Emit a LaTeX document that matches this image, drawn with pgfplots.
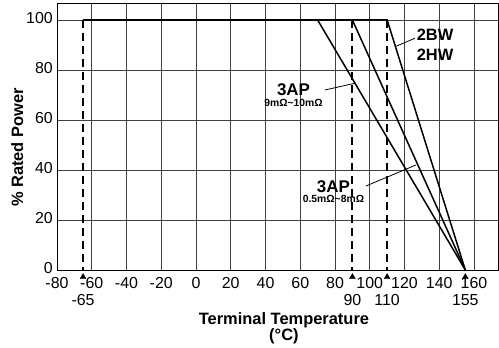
\documentclass[border=0pt]{standalone}
\usepackage{pgfplots}
\pgfplotsset{compat=1.18}
\usepackage{fontspec}
\setmainfont{Liberation Sans}
\begin{document}
\begin{tikzpicture}
\begin{axis}[
 scale only axis, width=441.5bp, height=267bp,
 xmin=-80, xmax=174.1, ymin=0, ymax=106.8,
 xtick={-80,-60,...,160}, ytick={0,20,...,100},
 grid=major, major grid style={black!75, line width=0.8bp},
 major tick length=0pt,
 axis line style={black, line width=0.9bp},
 clip=false,
 tick label style={font=\fontsize{16}{16}\selectfont, /pgf/number format/assume math mode=true},
 xticklabel style={inner sep=0pt, yshift=-7bp},
 yticklabel style={inner sep=0pt, xshift=-4bp, yshift=1.5bp},
 extra x ticks={-65,90,110,155},
 extra x tick labels={-65,90,110,155},
 extra x tick style={grid=none, xticklabel style={yshift=-17bp}},
 xlabel={Terminal Temperature\\(°C)},
 xlabel style={font=\bfseries\fontsize{16.5}{14.5}\selectfont, align=center, at={(axis description cs:0.514,-0.157)}, anchor=north, inner sep=0pt},
 ylabel={\% Rated Power},
 ylabel style={font=\bfseries\fontsize{16.5}{16.5}\selectfont, at={(axis description cs:-0.0898,0.459)}, anchor=center, inner sep=0pt},
]
\addplot[black, line width=1.5bp] coordinates {(-65,100)(70,100)(155,0)};
\addplot[black, line width=1.5bp] coordinates {(-65,100)(90,100)(155,0)};
\addplot[black, line width=1.5bp] coordinates {(-65,100)(110,100)(155,0)};
\addplot[black, line width=1.8bp, dash pattern=on 8bp off 5bp] coordinates {(-65,100)(-65,0)};
\addplot[black, line width=1.8bp, dash pattern=on 8bp off 5bp] coordinates {(90,100)(90,0)};
\addplot[black, line width=1.8bp, dash pattern=on 8bp off 5bp] coordinates {(110,100)(110,0)};
\addplot[only marks, mark=triangle*, mark size=3.4bp, black] coordinates {(-65,-2.8)(90,-2.8)(110,-2.8)(155,-2.8)};
\addplot[black, line width=0.8bp] coordinates {(114.5,89.3)(126,92.7)};
\addplot[black, line width=0.8bp] coordinates {(74.2,72)(91.5,74.7)};
\addplot[black, line width=0.8bp] coordinates {(97.8,33.6)(126.6,42)};
\node[font=\bfseries\fontsize{16.5}{20}\selectfont, align=center, inner sep=0pt] at (axis cs:137.6,90) {2BW\\2HW};
\node[font=\bfseries\fontsize{17}{17}\selectfont, inner sep=0pt] at (axis cs:56.1,72.2) {3AP};
\node[font=\bfseries\fontsize{10.4}{10.4}\selectfont, inner sep=0pt] at (axis cs:56.1,67) {9mΩ\textasciitilde10mΩ};
\node[font=\bfseries\fontsize{17}{17}\selectfont, inner sep=0pt] at (axis cs:79.1,33.4) {3AP};
\node[font=\bfseries\fontsize{10.4}{10.4}\selectfont, inner sep=0pt] at (axis cs:79.1,28.4) {0.5mΩ\textasciitilde8mΩ};
\coordinate (SW) at (rel axis cs:0,0);
\coordinate (NE) at (rel axis cs:1,1);
\end{axis}
\pgfresetboundingbox
\path[use as bounding box] ([xshift=-57bp,yshift=-78bp]SW) rectangle ([xshift=0.5bp,yshift=3bp]NE);
\end{tikzpicture}
\end{document}
